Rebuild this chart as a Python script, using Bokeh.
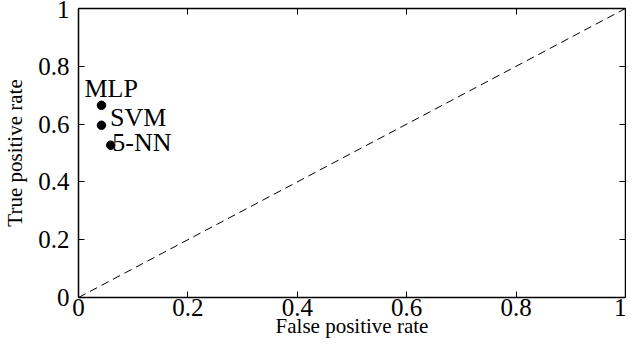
from bokeh.plotting import figure
from bokeh.models import Range1d, LinearAxis, FixedTicker, Slope
from bokeh.embed import file_html
from bokeh.resources import INLINE
from bokeh.core.properties import value

# ---- data ----
methods = ["MLP", "SVM", "5-NN"]
fpr = [0.042, 0.042, 0.059]
tpr = [0.665, 0.596, 0.527]
tick_values = [0, 0.2, 0.4, 0.6, 0.8, 1]
tick_labels = ["0", "0.2", "0.4", "0.6", "0.8", "1"]
x_title = "False positive rate"
y_title = "True positive rate"

FONT = "Liberation Serif"
overrides = {t: l for t, l in zip(tick_values, tick_labels)}

p = figure(width=626, height=342, output_backend="svg", toolbar_location=None,
           x_range=Range1d(0, 1), y_range=Range1d(0, 1),
           x_axis_location=None, y_axis_location=None,
           min_border_left=71, min_border_top=8, min_border_right=1, min_border_bottom=45)
p.outline_line_color = None
p.xgrid.visible = False
p.ygrid.visible = False
p.background_fill_color = "white"
p.border_fill_color = "white"


def style(ax, show_labels, title=None):
    ax.ticker = FixedTicker(ticks=tick_values)
    ax.major_label_overrides = overrides
    ax.axis_line_color = "black"
    ax.axis_line_width = 1.5
    ax.major_tick_line_color = "black"
    ax.major_tick_line_width = 1
    ax.major_tick_in = 6
    ax.major_tick_out = 0
    ax.minor_tick_line_color = None
    ax.major_label_text_font = FONT
    ax.major_label_text_color = "black"
    if show_labels:
        ax.major_label_text_font_size = "25px"
    else:
        ax.major_label_text_font_size = "0px"
        ax.major_label_standoff = 0
    if title:
        ax.axis_label = title
        ax.axis_label_text_font = FONT
        ax.axis_label_text_font_size = "21px"
        ax.axis_label_text_font_style = "normal"
        ax.axis_label_text_color = "black"


bottom = LinearAxis()
style(bottom, True, x_title)
bottom.major_label_standoff = 1
bottom.axis_label_standoff = -5
p.add_layout(bottom, "below")

left = LinearAxis()
style(left, True, y_title)
left.major_label_standoff = 9
left.axis_label_standoff = 8
p.add_layout(left, "left")

top = LinearAxis()
style(top, False)
p.add_layout(top, "above")

right = LinearAxis()
style(right, False)
p.add_layout(right, "right")

# diagonal chance line
p.add_layout(Slope(gradient=1, y_intercept=0, line_color="black",
                   line_width=1, line_dash="8 5"))

# points
p.scatter(fpr, tpr, size=8.5, marker="circle", color="black")

# labels (pixel offsets only)
label_offsets = {"MLP": (-17, -17), "SVM": (8.5, -8), "5-NN": (1.5, -3)}
for m, xv, yv in zip(methods, fpr, tpr):
    dx, dy = label_offsets[m]
    p.text([xv], [yv], text=[m], x_offset=dx, y_offset=dy,
           text_font=value(FONT), text_font_size="26px", text_color="black",
           text_align="left", text_baseline="alphabetic")

open("out.html", "w").write(file_html(p, INLINE))
